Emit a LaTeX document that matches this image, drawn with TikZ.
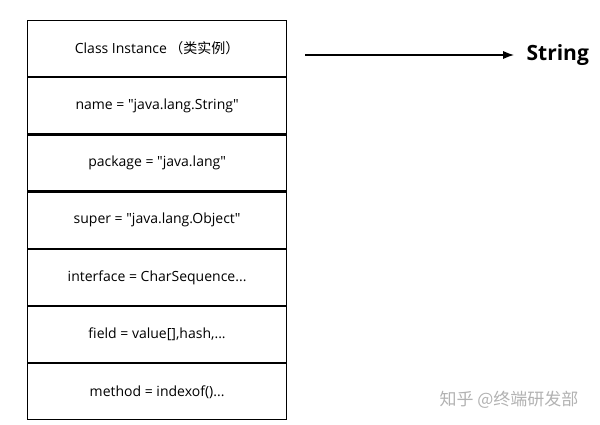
\documentclass[tikz,border=0pt]{standalone}
\usepackage{fontspec}
\setmainfont{Open Sans}
\newfontfamily\cjk{Noto Sans CJK SC}
\usetikzlibrary{positioning,arrows.meta}
\newcommand{\qt}{\textquotedbl}
\begin{document}
\begin{tikzpicture}[x=1pt,y=-1pt,line width=1.2pt,
                    row node/.style={draw,minimum width=259pt,minimum height=56pt,font=\fontsize{14}{16}\selectfont,inner sep=0pt}]
  \useasboundingbox (0,0) rectangle (600,424);

  \node[row node,anchor=north west] (r1) at (27,20) {Class Instance\,{\cjk（类实例）}};
  \node[row node] (r2) [below=0pt of r1] {name = \qt java.lang.String\qt};
  \node[row node] (r3) [below=0pt of r2] {package = \qt java.lang\qt};
  \node[row node] (r4) [below=0pt of r3] {super = \qt java.lang.Object\qt};
  \node[row node] (r5) [below=0pt of r4] {interface = CharSequence...};
  \node[row node] (r6) [below=0pt of r5] {field = value[],hash,...};
  \node[row node] (r7) [below=0pt of r6] {method = indexof()...};

  \coordinate (start) at (305,55);
  \node[font=\fontsize{21}{24}\selectfont\bfseries,anchor=west,inner sep=2pt] (str) at (524,55) {String};
  \draw[-{Latex[length=11pt]},shorten >=10pt] (start) -- (str);

  \node[font=\cjk\fontsize{17}{19}\selectfont,text=gray!60] (mark) at (509,400) {知乎 @终端研发部};
\end{tikzpicture}
\end{document}
